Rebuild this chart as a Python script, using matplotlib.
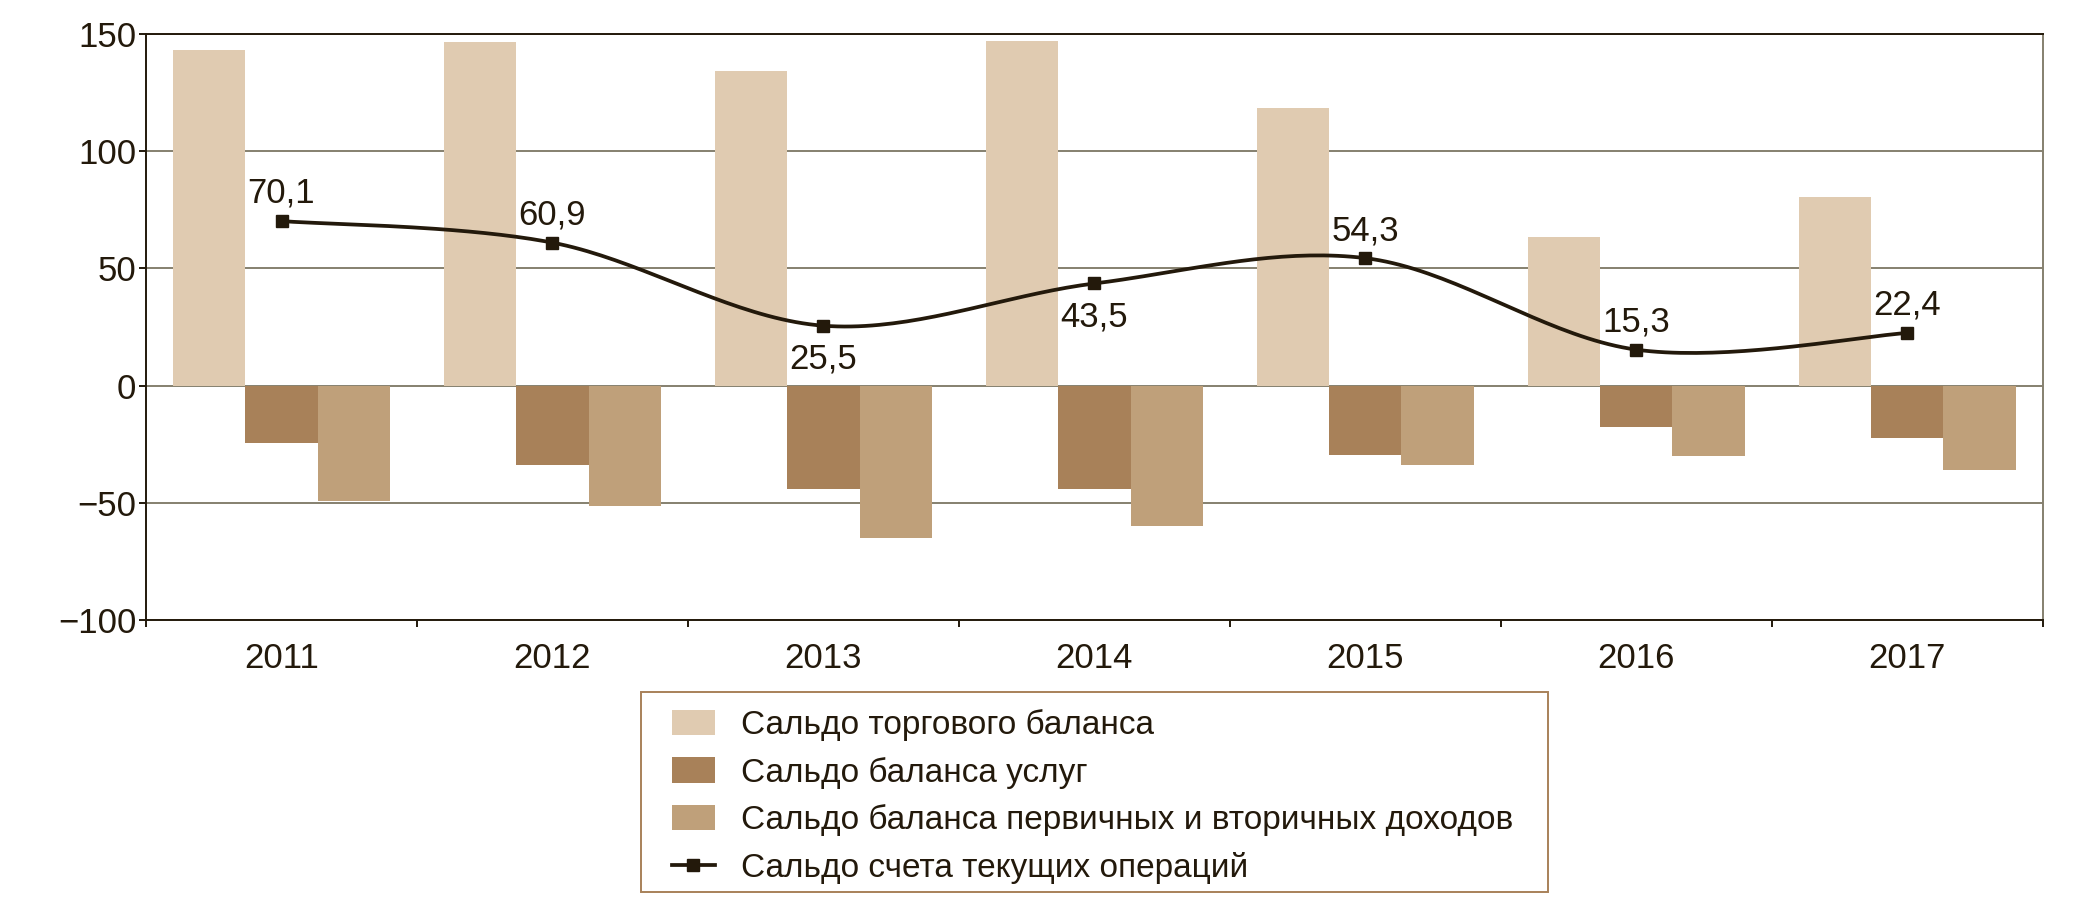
import numpy as np
import matplotlib
matplotlib.use("Agg")
import matplotlib.pyplot as plt
from matplotlib.patches import Rectangle
from matplotlib.ticker import FixedLocator, NullFormatter

plt.rcParams['font.family'] = ['Liberation Sans', 'DejaVu Sans']

years = ['2011', '2012', '2013', '2014', '2015', '2016', '2017']
trade = [143.1, 146.4, 134.0, 147.0, 118.2, 63.1, 80.4]
services = [-24.3, -34.0, -43.9, -43.9, -29.8, -17.5, -22.3]
income = [-49.3, -51.5, -64.8, -59.7, -33.8, -29.9, -36.0]
current = [70.1, 60.9, 25.5, 43.5, 54.3, 15.3, 22.4]
current_labels = ['70,1', '60,9', '25,5', '43,5', '54,3', '15,3', '22,4']
label_below = [False, False, True, True, False, False, False]

series_names = ['Сальдо торгового баланса',
                'Сальдо баланса услуг',
                'Сальдо баланса первичных и вторичных доходов',
                'Сальдо счета текущих операций']

c_trade = '#e0cbb1'
c_serv = '#a88159'
c_inc = '#bfa07a'
c_dark = '#23190b'
c_grid = '#85806f'


def smooth_curve(xs, ys, n=40):
    """Excel-like smoothed line (Bezier through the points)."""
    pts = np.column_stack([xs, ys]).astype(float)
    out = []
    last = len(pts) - 1
    for i in range(last):
        p0 = pts[max(i - 1, 0)]
        p1 = pts[i]
        p2 = pts[i + 1]
        p3 = pts[min(i + 2, last)]
        c1 = p1 + (p2 - p0) / 6
        c2 = p2 - (p3 - p1) / 6
        t = np.linspace(0, 1, n)[:, None]
        seg = ((1 - t) ** 3) * p1 + 3 * ((1 - t) ** 2) * t * c1 + 3 * (1 - t) * t ** 2 * c2 + t ** 3 * p2
        out.append(seg if i == 0 else seg[1:])
    out = np.vstack(out)
    return out[:, 0], out[:, 1]


fig = plt.figure(figsize=(20.78, 9.08), dpi=100)
ax = fig.add_axes([0.0703, 0.317, 0.9127, 0.646])

x = np.arange(len(years))
w = 0.267
b1 = ax.bar(x - w, trade, w, color=c_trade, zorder=2, label=series_names[0])
b2 = ax.bar(x, services, w, color=c_serv, zorder=2, label=series_names[1])
b3 = ax.bar(x + w, income, w, color=c_inc, zorder=2, label=series_names[2])

sx, sy = smooth_curve(x, current)
ax.plot(sx, sy, color=c_dark, lw=2.7, zorder=4)
ax.plot(x, current, ls='none', marker='s', ms=8.5, color=c_dark, zorder=5)
line_handle, = ax.plot([], [], color=c_dark, lw=2.7, marker='s', ms=8.5,
                       label=series_names[3])

for xi, yi, txt, below in zip(x, current, current_labels, label_below):
    if below:
        ax.annotate(txt, (xi, yi), xytext=(0, -12), textcoords='offset points',
                    ha='center', va='top', fontsize=25, color=c_dark, zorder=6)
    else:
        ax.annotate(txt, (xi, yi), xytext=(0, 8), textcoords='offset points',
                    ha='center', va='bottom', fontsize=25, color=c_dark, zorder=6)

ax.set_xlim(-0.5, len(years) - 0.5)
ax.set_ylim(-100, 150)
ax.set_yticks([-100, -50, 0, 50, 100, 150])
ax.set_yticklabels(['\u2212100', '\u221250', '0', '50', '100', '150'])
ax.yaxis.grid(True, color=c_grid, lw=1.4, zorder=0)
ax.set_axisbelow(True)

ax.set_xticks(x)
ax.set_xticklabels(years)
ax.xaxis.set_minor_locator(FixedLocator(np.arange(-0.5, len(years), 1.0)))
ax.xaxis.set_minor_formatter(NullFormatter())
ax.tick_params(axis='x', which='major', length=0, pad=16, labelsize=25, labelcolor=c_dark)
ax.tick_params(axis='x', which='minor', length=5, width=1.4, color=c_dark)
ax.tick_params(axis='y', length=5, width=1.4, color=c_dark, pad=2, labelsize=25,
               labelcolor=c_dark)

for side in ['left', 'bottom', 'top']:
    ax.spines[side].set_color(c_dark)
    ax.spines[side].set_linewidth(1.4)
ax.spines['right'].set_color(c_grid)
ax.spines['right'].set_linewidth(1.4)

# legend without its own frame, box drawn separately
leg = fig.legend(handles=[b1, b2, b3, line_handle], loc='upper left',
                 bbox_to_anchor=(0.3235, 0.219), fontsize=24, frameon=False,
                 handlelength=1.27, handleheight=0.8, handletextpad=0.8,
                 borderpad=0, labelspacing=0.47, borderaxespad=0)
for t in leg.get_texts():
    t.set_color(c_dark)

fig.patches.append(Rectangle((641 / 2078, 1 - 892 / 908), 907 / 2078, 200 / 908,
                             transform=fig.transFigure, fill=False,
                             edgecolor='#a88159', lw=1.4))

fig.savefig('out.png', dpi=100)
